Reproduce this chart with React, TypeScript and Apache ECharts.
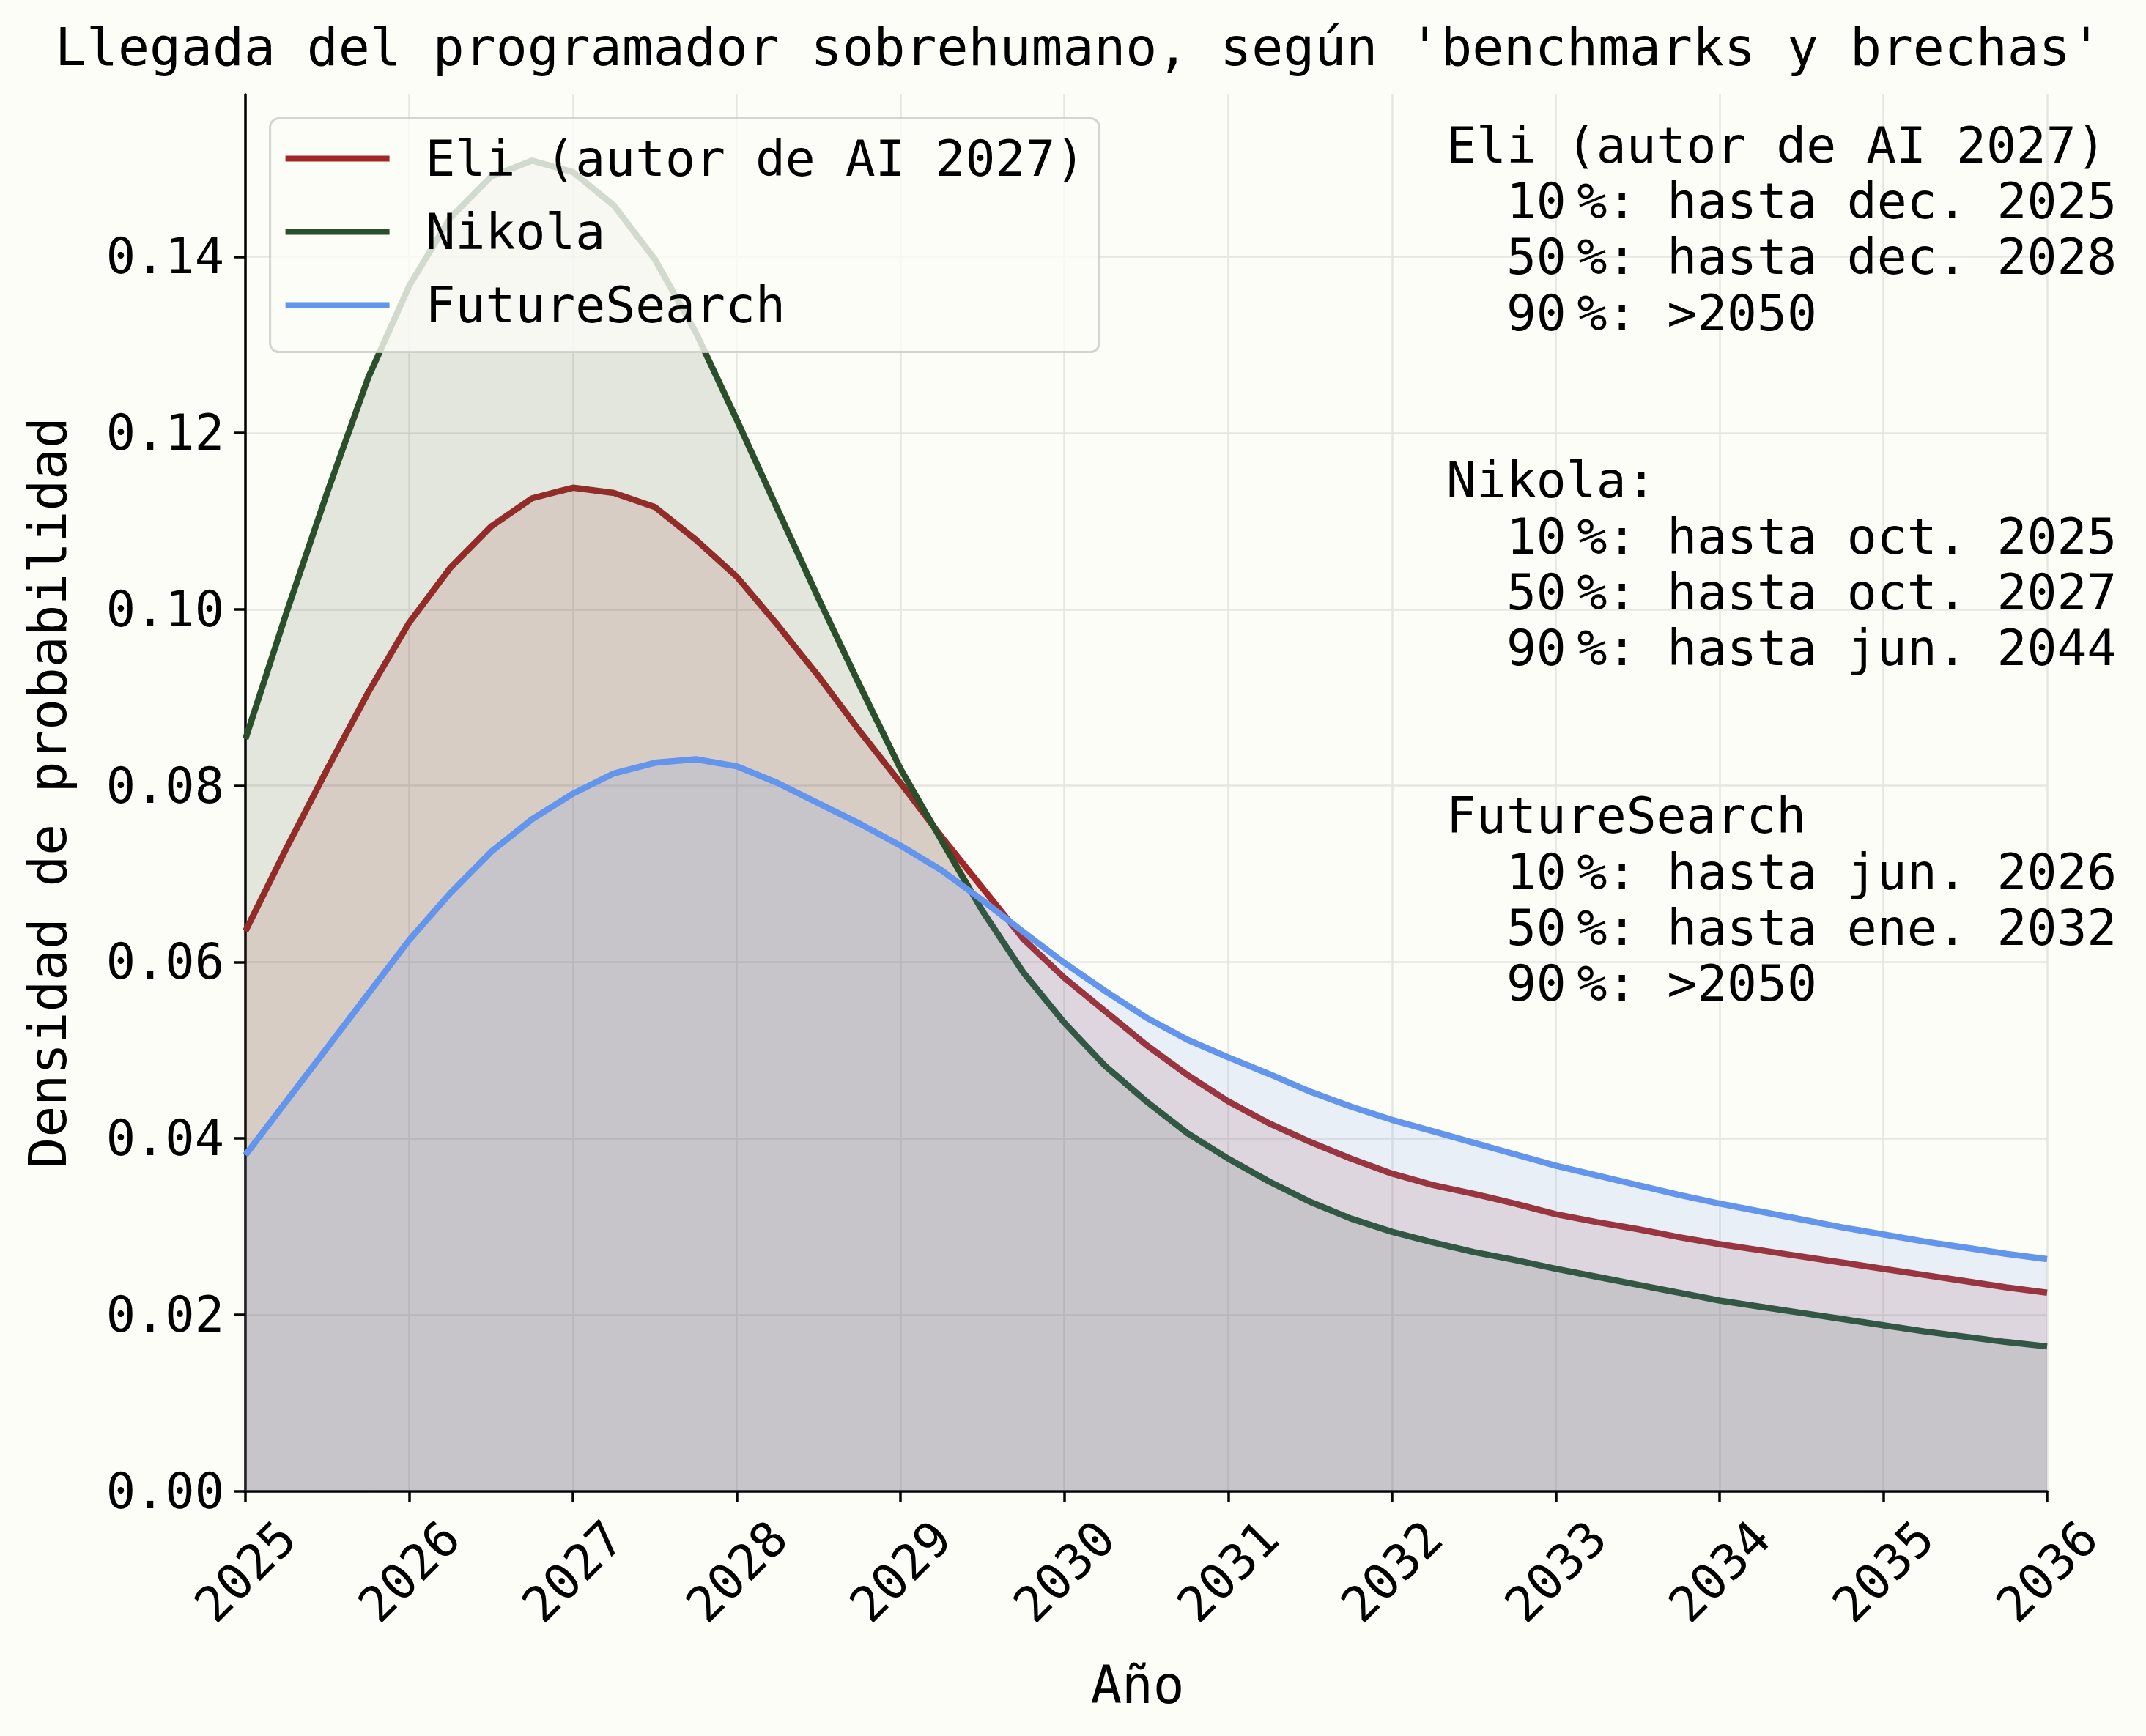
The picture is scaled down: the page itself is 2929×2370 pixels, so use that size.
import React, { useEffect, useRef } from 'react';
import * as echarts from 'echarts';

const years = [
  2025, 2025.25, 2025.5, 2025.75, 2026, 2026.25, 2026.5, 2026.75, 2027, 2027.25, 2027.5, 2027.75,
  2028, 2028.25, 2028.5, 2028.75, 2029, 2029.25, 2029.5, 2029.75, 2030, 2030.25, 2030.5, 2030.75,
  2031, 2031.25, 2031.5, 2031.75, 2032, 2032.25, 2032.5, 2032.75, 2033, 2033.25, 2033.5, 2033.75,
  2034, 2034.25, 2034.5, 2034.75, 2035, 2035.25, 2035.5, 2035.75, 2036,
];

const eli = [
  0.0635, 0.0729, 0.0819, 0.0906, 0.0985, 0.1047, 0.1094, 0.1126, 0.1138, 0.1132, 0.1116, 0.1079,
  0.1037, 0.0982, 0.0924, 0.0862, 0.0803, 0.0742, 0.0684, 0.0626, 0.0582, 0.0544, 0.0506, 0.0472,
  0.0442, 0.0417, 0.0396, 0.0377, 0.036, 0.0347, 0.0337, 0.0326, 0.0314, 0.0305, 0.0297, 0.0288,
  0.028, 0.0273, 0.0266, 0.0259, 0.0252, 0.0245, 0.0238, 0.0231, 0.0225,
];

const nikola = [
  0.0853, 0.0996, 0.1133, 0.1263, 0.1367, 0.1444, 0.1491, 0.1509, 0.1496, 0.1458, 0.1397, 0.1314,
  0.1215, 0.1113, 0.1012, 0.0914, 0.0819, 0.0738, 0.0658, 0.0588, 0.0531, 0.0482, 0.0442, 0.0406,
  0.0377, 0.0351, 0.0328, 0.0309, 0.0294, 0.0282, 0.0271, 0.0262, 0.0252, 0.0243, 0.0234, 0.0225,
  0.0216, 0.0209, 0.0202, 0.0195, 0.0188, 0.0181, 0.0175, 0.0169, 0.0164,
];

const futureSearch = [
  0.0381, 0.0442, 0.0503, 0.0564, 0.0625, 0.0678, 0.0725, 0.0762, 0.0791, 0.0814, 0.0826, 0.083,
  0.0822, 0.0803, 0.078, 0.0757, 0.0732, 0.0704, 0.067, 0.0634, 0.0599, 0.0567, 0.0537, 0.0512,
  0.0492, 0.0473, 0.0453, 0.0436, 0.0421, 0.0408, 0.0395, 0.0382, 0.0369, 0.0358, 0.0347, 0.0336,
  0.0326, 0.0317, 0.0308, 0.0299, 0.0291, 0.0283, 0.0276, 0.0269, 0.0263,
];

const seriesNames = ['Eli (autor de AI 2027)', 'Nikola', 'FutureSearch'];
const yTicks = [0, 0.02, 0.04, 0.06, 0.08, 0.1, 0.12, 0.14];

const titleText = "Llegada del programador sobrehumano, según 'benchmarks y brechas'";
const xAxisName = 'Año';
const yAxisName = 'Densidad de probabilidad';

// narrow space rendered through a proportional font (rich token "t")
const TS = '{t|\u00A0}';
const IND = '\u00A0\u00A0';
const annotationBlocks = [
  [
    'Eli (autor de AI 2027)',
    `${IND}10${TS}%: hasta dec. 2025`,
    `${IND}50${TS}%: hasta dec. 2028`,
    `${IND}90${TS}%: >2050`,
  ],
  [
    'Nikola:',
    `${IND}10${TS}%: hasta oct. 2025`,
    `${IND}50${TS}%: hasta oct. 2027`,
    `${IND}90${TS}%: hasta jun. 2044`,
  ],
  [
    'FutureSearch',
    `${IND}10${TS}%: hasta jun. 2026`,
    `${IND}50${TS}%: hasta ene. 2032`,
    `${IND}90${TS}%: >2050`,
  ],
];

const FONT = '"DejaVu Sans Mono", "Liberation Mono", monospace';
const BG = '#FDFDF7';
const GRID = '#E6E6E2';
const lineColors = ['#A02828', '#2B4F2B', '#6495ED'];

export default function App() {
  const ref = useRef<HTMLDivElement>(null);

  useEffect(() => {
    document.body.style.margin = '0';
    const chart = echarts.init(ref.current!, null, { renderer: 'svg' });
    const seriesData = [eli, nikola, futureSearch];

    const option: any = {
      animation: false,
      backgroundColor: BG,
      title: {
        text: titleText,
        left: 75,
        top: 28,
        padding: 0,
        textStyle: { fontFamily: FONT, fontSize: 71.4, fontWeight: 'normal', color: '#000', lineHeight: 72 },
      },
      grid: { left: 335, right: 135, top: 129, bottom: 334.5, containLabel: false, outerBoundsMode: 'none' },
      legend: {
        orient: 'vertical',
        left: 368.6,
        top: 161.6,
        data: seriesNames,
        icon: 'rect',
        itemWidth: 142,
        itemHeight: 8,
        itemGap: 20,
        padding: [15, 19, 24, 21],
        backgroundColor: 'rgba(253,253,247,0.8)',
        borderColor: 'rgba(204,204,204,0.85)',
        borderWidth: 3,
        borderRadius: 12,
        selectedMode: false,
        textStyle: { fontFamily: FONT, fontSize: 68, color: '#000', lineHeight: 80, padding: [0, 0, 0, 44] },
      },
      xAxis: {
        type: 'value',
        min: 2025,
        max: 2036,
        interval: 1,
        name: xAxisName,
        nameLocation: 'middle',
        nameGap: 229,
        nameTextStyle: { fontFamily: FONT, fontSize: 71, color: '#000', padding: [0, 24, 0, 0] },
        axisLine: { show: true, lineStyle: { color: '#000', width: 3.5 } },
        axisTick: { show: true, length: 15, lineStyle: { color: '#000', width: 3.5 } },
        axisLabel: {
          rotate: 45,
          align: 'center',
          verticalAlign: 'middle',
          margin: 110,
          fontFamily: FONT,
          fontSize: 67,
          color: '#000',
          formatter: (v: number) => String(Math.round(v)),
        },
        splitLine: { show: true, lineStyle: { color: GRID, width: 2.5 } },
      },
      yAxis: {
        type: 'value',
        min: 0,
        max: 0.1584,
        interval: 0.02,
        name: yAxisName,
        nameLocation: 'middle',
        nameRotate: 90,
        nameGap: 234,
        nameTextStyle: { fontFamily: FONT, fontSize: 71, color: '#000' },
        axisLine: { show: true, lineStyle: { color: '#000', width: 3.5 } },
        axisTick: { show: true, length: 15, customValues: yTicks, lineStyle: { color: '#000', width: 3.5 } },
        axisLabel: {
          customValues: yTicks,
          margin: 29,
          fontFamily: FONT,
          fontSize: 67,
          color: '#000',
          formatter: (v: number) => v.toFixed(2),
        },
        splitLine: {
          show: true,
          lineStyle: { color: [...yTicks.map(() => GRID), 'rgba(0,0,0,0)'], width: 2.5 },
        },
      },
      series: seriesNames.map((name, si) => ({
        type: 'line',
        name,
        data: years.map((x, i) => [x, seriesData[si][i]]),
        symbol: 'none',
        showSymbol: false,
        smooth: false,
        z: 2 + si,
        itemStyle: { color: lineColors[si] },
        lineStyle: { color: lineColors[si], width: 8.5, opacity: 1 },
        areaStyle: { color: lineColors[si], opacity: 0.13 },
      })),
      graphic: annotationBlocks.map((lines, i) => ({
        type: 'text',
        left: 1974,
        top: [160, 617.8, 1075.6][i],
        z: 100,
        style: {
          text: lines.join('\n'),
          fontFamily: FONT,
          fontSize: 68,
          fill: '#000',
          lineHeight: 76.3,
          rich: {
            t: { fontFamily: '"DejaVu Sans"', fontSize: 46, lineHeight: 76.3, fill: '#000' },
          },
        },
      })),
    };

    chart.setOption(option);
    return () => chart.dispose();
  }, []);

  return <div ref={ref} style={{ width: 2929, height: 2370 }} />;
}
